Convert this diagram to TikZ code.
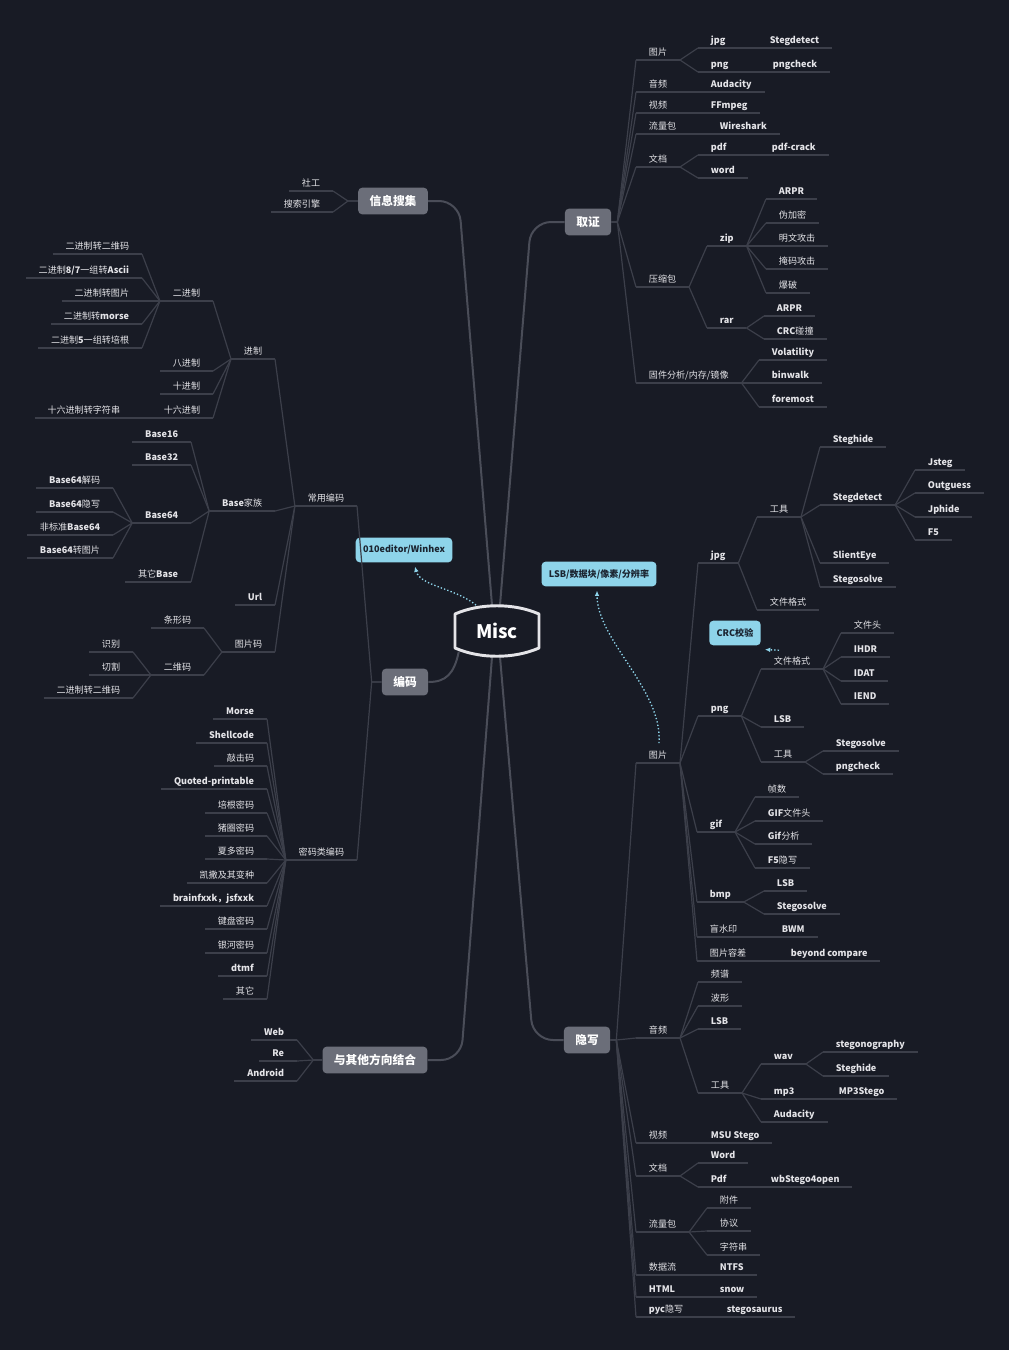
\documentclass[tikz,border=0pt]{standalone}
\usepackage{fontspec}
\setmainfont{Noto Sans CJK SC}
\usepackage{tikz}
\usetikzlibrary{calc,arrows.meta}
\definecolor{bgNavy}{HTML}{181B25}
\definecolor{branchGrey}{HTML}{3C3F4A}
\definecolor{trunkGrey}{HTML}{4A4D58}
\definecolor{topicGrey}{HTML}{6B6E79}
\definecolor{noteBlue}{HTML}{8ED4EA}
\definecolor{noteInk}{HTML}{1B2430}
\definecolor{labelWhite}{HTML}{E4E4E8}
\tikzset{
  brline/.style={draw=branchGrey, line width=0.9pt},
  trunk/.style={draw=trunkGrey, line width=1.5pt, rounded corners=15pt},
  rnode/.style={anchor=south west, font=\fontsize{6.8}{8}\selectfont, text=labelWhite, inner xsep=9.5pt, inner ysep=0.6pt, text height=5.4pt, text depth=2.6pt, append after command={(\tikzlastnode.south west) edge[brline] (\tikzlastnode.south east)}},
  lnode/.style={rnode, anchor=south east},
  en/.style={font=\fontsize{6.8}{8}\selectfont\bfseries},
  topic/.style={rectangle, rounded corners=3pt, fill=topicGrey, text=white, font=\fontsize{8.8}{10}\selectfont\bfseries, inner xsep=8.5pt, minimum height=20pt},
  note/.style={rectangle, rounded corners=3pt, fill=noteBlue, text=noteInk, font=\fontsize{6.8}{8}\selectfont\bfseries, inner xsep=5.5pt, minimum height=18.5pt},
  linkarr/.style={draw=noteBlue, line width=1pt, dash pattern=on 1pt off 1.6pt, -{Latex[length=4pt,width=3.5pt]}},
  miscline/.style={draw=labelWhite, line width=2.2pt, line join=round},
}

\begin{document}
\begin{tikzpicture}[x=0.75pt,y=-0.75pt]
  \useasboundingbox (0,0) rectangle (1009,1350);
  \fill[bgNavy] (0,0) rectangle (1009,1350);

  % centre and main topics
  \node[font=\fontsize{14}{16}\selectfont\bfseries, text=white, minimum width=63pt, minimum height=40pt] (misc) at (497,631) {Misc};
  \node[topic] (xx) at (393,201) {信息搜集};
  \node[topic] (qz) at (588,222) {取证};
  \node[topic] (bm) at (405,682) {编码};
  \node[topic] (yx) at (587,1040) {隐写};
  \node[topic] (qt) at (375,1060) {与其他方向结合};

  \node[note] (winhex) at (404,550) {010editor/Winhex};
  \node[note] (lsbnote) at (599,574) {LSB/数据块/像素/分辨率};
  \node[note] (crc) at (735,633) {CRC校验};

  \draw[trunk] ($(misc.north)+(-5,1)$) -- (459,201) -- (xx.east);
  \draw[trunk] ($(misc.north)+(3,1)$) -- (531,222) -- (qz.west);
  \draw[trunk] ($(misc.south)+(-5,-1)$) -- (461,1060) -- (qt.east);
  \draw[trunk] ($(misc.south)+(3,-1)$) -- (533,1040) -- (yx.west);
  \draw[trunk] ($(misc.south west)+(4,-6)$) .. controls (454,674) and (446,682) .. (bm.east);
  \draw[miscline] (455,631) -- (455,614) .. controls (480,603) and (514,603) .. (539,614) -- (539,648) .. controls (514,659) and (480,659) .. (455,648) -- cycle;

  % 信息搜集
  \node[lnode] (xx-sg) at (333,191) {社工};
  \node[lnode] (xx-ss) at (333,212) {搜索引擎};
  \foreach \b in {xx-sg,xx-ss} { \draw[brline] (xx.west) -- ++(-10,0) -- (\b.south east); }

  % 取证
  \node[rnode] (qz-tp) at (636,60) {图片};
  \node[rnode,en] (qz-jpg) at (698,48) {jpg};
  \node[rnode,en] (qz-sd) at (757,48) {Stegdetect};
  \node[rnode,en] (qz-png) at (698,72) {png};
  \node[rnode,en] (qz-pc) at (760,72) {pngcheck};
  \node[rnode] (qz-yp) at (636,92) {音频};
  \node[rnode,en] (qz-aud) at (698,92) {Audacity};
  \node[rnode] (qz-sp) at (636,113) {视频};
  \node[rnode,en] (qz-ff) at (698,113) {FFmpeg};
  \node[rnode] (qz-ll) at (636,134) {流量包};
  \node[rnode,en] (qz-ws) at (707,134) {Wireshark};
  \node[rnode] (qz-wd) at (636,167) {文档};
  \node[rnode,en] (qz-pdf) at (698,155) {pdf};
  \node[rnode,en] (qz-pcr) at (759,155) {pdf-crack};
  \node[rnode,en] (qz-word) at (698,178) {word};
  \node[rnode] (qz-ys) at (636,287) {压缩包};
  \node[rnode,en] (qz-zip) at (707,246) {zip};
  \node[rnode,en] (qz-zarpr) at (766,199) {ARPR};
  \node[rnode] (qz-wjm) at (766,223) {伪加密};
  \node[rnode] (qz-mwgj) at (766,246) {明文攻击};
  \node[rnode] (qz-ymgj) at (766,269) {掩码攻击};
  \node[rnode] (qz-bp) at (766,293) {爆破};
  \node[rnode,en] (qz-rar) at (707,328) {rar};
  \node[rnode,en] (qz-rarpr) at (764,316) {ARPR};
  \node[rnode] (qz-crc) at (764,339) {\textbf{CRC}碰撞};
  \node[rnode] (qz-gj) at (636,383) {固件分析/内存/镜像};
  \node[rnode,en] (qz-vol) at (759,360) {Volatility};
  \node[rnode,en] (qz-bw) at (759,383) {binwalk};
  \node[rnode,en] (qz-fm) at (759,407) {foremost};

  \foreach \b in {qz-tp,qz-yp,qz-sp,qz-ll,qz-wd,qz-ys,qz-gj} { \draw[brline] (qz.east) -- ++(6,0) -- (\b.south west); }
  \foreach \a/\b in {qz-tp/qz-jpg, qz-tp/qz-png, qz-jpg/qz-sd, qz-png/qz-pc, qz-yp/qz-aud, qz-sp/qz-ff, qz-ll/qz-ws, qz-wd/qz-pdf, qz-wd/qz-word, qz-pdf/qz-pcr, qz-ys/qz-zip, qz-ys/qz-rar, qz-zip/qz-zarpr, qz-zip/qz-wjm, qz-zip/qz-mwgj, qz-zip/qz-ymgj, qz-zip/qz-bp, qz-rar/qz-rarpr, qz-rar/qz-crc, qz-gj/qz-vol, qz-gj/qz-bw, qz-gj/qz-fm} { \draw[brline] (\a.south east) -- (\b.south west); }

  % 编码
  \node[lnode] (bm-cy) at (357,506) {常用编码};
  \node[lnode] (bm-jz) at (275,359) {进制};
  \node[lnode] (bm-ejz) at (213,301) {二进制};
  \node[lnode] (bm-e1) at (142,254) {二进制转二维码};
  \node[lnode] (bm-e2) at (142,278) {二进制\textbf{8/7}一组转\textbf{Ascii}};
  \node[lnode] (bm-e3) at (142,301) {二进制转图片};
  \node[lnode] (bm-e4) at (142,324) {二进制转\textbf{morse}};
  \node[lnode] (bm-e5) at (142,348) {二进制\textbf{5}一组转培根};
  \node[lnode] (bm-bjz) at (213,371) {八进制};
  \node[lnode] (bm-sjz) at (213,394) {十进制};
  \node[lnode] (bm-sljz) at (213,418) {十六进制};
  \node[lnode] (bm-slzf) at (133,418) {十六进制转字符串};
  \node[lnode] (bm-base) at (275,511) {\textbf{Base}家族};
  \node[lnode,en] (bm-b16) at (191,442) {Base16};
  \node[lnode,en] (bm-b32) at (191,465) {Base32};
  \node[lnode,en] (bm-b64) at (191,523) {Base64};
  \node[lnode] (bm-qtb) at (191,582) {其它\textbf{Base}};
  \node[lnode] (bm-b64a) at (113,488) {\textbf{Base64}解码};
  \node[lnode] (bm-b64b) at (113,512) {\textbf{Base64}隐写};
  \node[lnode] (bm-b64c) at (113,535) {非标准\textbf{Base64}};
  \node[lnode] (bm-b64d) at (113,558) {\textbf{Base64}转图片};
  \node[lnode,en] (bm-url) at (275,605) {Url};
  \node[lnode] (bm-tpm) at (275,652) {图片码};
  \node[lnode] (bm-txm) at (204,628) {条形码};
  \node[lnode] (bm-ewm) at (204,675) {二维码};
  \node[lnode] (bm-sb) at (133,652) {识别};
  \node[lnode] (bm-qg) at (133,675) {切割};
  \node[lnode] (bm-eze) at (133,698) {二进制转二维码};
  \node[lnode] (bm-mm) at (357,860) {密码类编码};
  \foreach \n/\y/\t in {1/719/\textbf{Morse}, 2/743/\textbf{Shellcode}, 3/766/敲击码, 4/789/\textbf{Quoted-printable}, 5/813/培根密码, 6/836/猪圈密码, 7/859/夏多密码, 8/883/凯撒及其变种, 9/906/\textbf{brainfxxk，jsfxxk}, 10/929/键盘密码, 11/953/银河密码, 12/976/\textbf{dtmf}, 13/999/其它}
    { \node[lnode] (bm-c\n) at (267,\y) {\t}; }

  \foreach \b in {bm-cy,bm-mm} { \draw[brline] (bm.west) -- ++(-10,0) -- (\b.south east); }
  \foreach \a/\b in {bm-cy/bm-jz, bm-cy/bm-base, bm-cy/bm-url, bm-cy/bm-tpm, bm-jz/bm-ejz, bm-jz/bm-bjz, bm-jz/bm-sjz, bm-jz/bm-sljz, bm-ejz/bm-e1, bm-ejz/bm-e2, bm-ejz/bm-e3, bm-ejz/bm-e4, bm-ejz/bm-e5, bm-sljz/bm-slzf, bm-base/bm-b16, bm-base/bm-b32, bm-base/bm-b64, bm-base/bm-qtb, bm-b64/bm-b64a, bm-b64/bm-b64b, bm-b64/bm-b64c, bm-b64/bm-b64d, bm-tpm/bm-txm, bm-tpm/bm-ewm, bm-ewm/bm-sb, bm-ewm/bm-qg, bm-ewm/bm-eze} { \draw[brline] (\a.south west) -- (\b.south east); }
  \foreach \n in {1,...,13} { \draw[brline] (bm-mm.south west) -- (bm-c\n.south east); }

  % 与其他方向结合
  \node[lnode,en] (qt-web) at (297,1040) {Web};
  \node[lnode,en] (qt-re) at (297,1061) {Re};
  \node[lnode,en] (qt-and) at (297,1081) {Android};
  \foreach \b in {qt-web,qt-re,qt-and} { \draw[brline] (qt.west) -- ++(-9,0) -- (\b.south east); }

  % 隐写
  \node[rnode] (yx-tp) at (636,763) {图片};
  \node[rnode,en] (yx-jpg) at (698,563) {jpg};
  \node[rnode] (yx-jgj) at (757,517) {工具};
  \node[rnode,en] (yx-sh) at (820,447) {Steghide};
  \node[rnode,en] (yx-sd) at (820,505) {Stegdetect};
  \node[rnode,en] (yx-js) at (915,470) {Jsteg};
  \node[rnode,en] (yx-og) at (915,493) {Outguess};
  \node[rnode,en] (yx-jp) at (915,517) {Jphide};
  \node[rnode,en] (yx-f5) at (915,540) {F5};
  \node[rnode,en] (yx-se) at (820,563) {SlientEye};
  \node[rnode,en] (yx-ss) at (820,587) {Stegosolve};
  \node[rnode] (yx-jwj) at (757,610) {文件格式};
  \node[rnode,en] (yx-png) at (698,716) {png};
  \node[rnode] (yx-pwj) at (761,669) {文件格式};
  \node[rnode] (yx-wjt) at (841,633) {文件头};
  \node[rnode,en] (yx-ihdr) at (841,657) {IHDR};
  \node[rnode,en] (yx-idat) at (841,681) {IDAT};
  \node[rnode,en] (yx-iend) at (841,704) {IEND};
  \node[rnode,en] (yx-plsb) at (761,727) {LSB};
  \node[rnode] (yx-pgj) at (761,762) {工具};
  \node[rnode,en] (yx-pss) at (823,751) {Stegosolve};
  \node[rnode,en] (yx-ppc) at (823,774) {pngcheck};
  \node[rnode,en] (yx-gif) at (697,832) {gif};
  \node[rnode] (yx-zs) at (755,797) {帧数};
  \node[rnode] (yx-gwjt) at (755,821) {\textbf{GIF}文件头};
  \node[rnode] (yx-gfx) at (755,844) {\textbf{Gif}分析};
  \node[rnode] (yx-f5yx) at (755,868) {\textbf{F5}隐写};
  \node[rnode,en] (yx-bmp) at (697,902) {bmp};
  \node[rnode,en] (yx-blsb) at (764,891) {LSB};
  \node[rnode,en] (yx-bss) at (764,914) {Stegosolve};
  \node[rnode] (yx-msy) at (697,937) {盲水印};
  \node[rnode,en] (yx-bwm) at (769,937) {BWM};
  \node[rnode] (yx-tprc) at (697,961) {图片容差};
  \node[rnode,en] (yx-bc) at (778,961) {beyond compare};
  \node[rnode] (yx-yp) at (636,1038) {音频};
  \node[rnode] (yx-pp) at (698,982) {频谱};
  \node[rnode] (yx-bx) at (698,1006) {波形};
  \node[rnode,en] (yx-alsb) at (698,1029) {LSB};
  \node[rnode] (yx-agj) at (698,1093) {工具};
  \node[rnode,en] (yx-wav) at (761,1064) {wav};
  \node[rnode,en] (yx-stg) at (823,1052) {stegonography};
  \node[rnode,en] (yx-wsh) at (823,1076) {Steghide};
  \node[rnode,en] (yx-mp3) at (761,1099) {mp3};
  \node[rnode,en] (yx-m3s) at (826,1099) {MP3Stego};
  \node[rnode,en] (yx-aud) at (761,1122) {Audacity};
  \node[rnode] (yx-sp) at (636,1143) {视频};
  \node[rnode,en] (yx-msu) at (698,1143) {MSU Stego};
  \node[rnode] (yx-wd) at (636,1176) {文档};
  \node[rnode,en] (yx-word) at (698,1163) {Word};
  \node[rnode,en] (yx-pdf) at (698,1187) {Pdf};
  \node[rnode,en] (yx-wbs) at (758,1187) {wbStego4open};
  \node[rnode] (yx-ll) at (636,1232) {流量包};
  \node[rnode] (yx-fj) at (707,1208) {附件};
  \node[rnode] (yx-xy) at (707,1231) {协议};
  \node[rnode] (yx-zfc) at (707,1255) {字符串};
  \node[rnode] (yx-sj) at (636,1275) {数据流};
  \node[rnode,en] (yx-ntfs) at (707,1275) {NTFS};
  \node[rnode,en] (yx-html) at (636,1297) {HTML};
  \node[rnode,en] (yx-snow) at (707,1297) {snow};
  \node[rnode] (yx-pyc) at (636,1317) {\textbf{pyc}隐写};
  \node[rnode,en] (yx-sts) at (714,1317) {stegosaurus};

  \foreach \b in {yx-tp,yx-yp,yx-sp,yx-wd,yx-ll,yx-sj,yx-html,yx-pyc} { \draw[brline] (yx.east) -- ++(6,0) -- (\b.south west); }
  \foreach \a/\b in {yx-tp/yx-jpg, yx-tp/yx-png, yx-tp/yx-gif, yx-tp/yx-bmp, yx-tp/yx-msy, yx-tp/yx-tprc, yx-jpg/yx-jgj, yx-jpg/yx-jwj, yx-jgj/yx-sh, yx-jgj/yx-sd, yx-jgj/yx-se, yx-jgj/yx-ss, yx-sd/yx-js, yx-sd/yx-og, yx-sd/yx-jp, yx-sd/yx-f5, yx-png/yx-pwj, yx-png/yx-plsb, yx-png/yx-pgj, yx-pwj/yx-wjt, yx-pwj/yx-ihdr, yx-pwj/yx-idat, yx-pwj/yx-iend, yx-pgj/yx-pss, yx-pgj/yx-ppc, yx-gif/yx-zs, yx-gif/yx-gwjt, yx-gif/yx-gfx, yx-gif/yx-f5yx, yx-bmp/yx-blsb, yx-bmp/yx-bss, yx-msy/yx-bwm, yx-tprc/yx-bc, yx-yp/yx-pp, yx-yp/yx-bx, yx-yp/yx-alsb, yx-yp/yx-agj, yx-agj/yx-wav, yx-agj/yx-mp3, yx-agj/yx-aud, yx-wav/yx-stg, yx-wav/yx-wsh, yx-mp3/yx-m3s, yx-sp/yx-msu, yx-wd/yx-word, yx-wd/yx-pdf, yx-pdf/yx-wbs, yx-ll/yx-fj, yx-ll/yx-xy, yx-ll/yx-zfc, yx-sj/yx-ntfs, yx-html/yx-snow, yx-pyc/yx-sts} { \draw[brline] (\a.south east) -- (\b.south west); }

  % dotted links to notes
  \draw[linkarr] ($(misc.north)+(-21,1)$) .. controls (455,588) and (420,586) .. ($(winhex.south)+(11,4)$);
  \draw[linkarr] ($(yx-tp.north)+(1,-7)$) .. controls (663,690) and (597,640) .. ($(lsbnote.south)+(-2,4)$);
  \draw[linkarr] ($(yx-pwj.north west)+(18,-6)$) -- ($(crc.south east)+(4,4)$);
\end{tikzpicture}
\end{document}
